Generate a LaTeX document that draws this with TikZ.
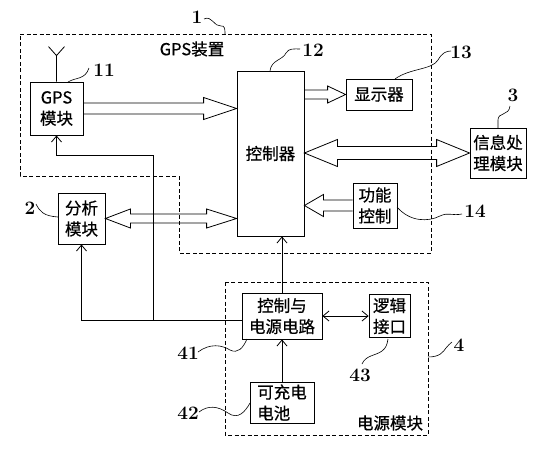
\documentclass[tikz,border=0pt]{standalone}
\usepackage{fontspec}
\newfontfamily\cjk[FakeBold=0.6]{Noto Sans CJK SC}
\usetikzlibrary{arrows.meta,calc}

\begin{document}
\begin{tikzpicture}[x=1pt,y=-1pt]
        \tikzstyle{every node}=[font=\cjk\fontsize{16.5}{21}\selectfont]
        \tikzstyle{box}=[draw, line width=0.8pt, align=center, inner sep=0pt]
        \tikzstyle{num}=[font=\bfseries\fontsize{19}{19}\selectfont, inner sep=1pt]
        \tikzstyle{lead}=[line width=0.6pt]
        \tikzstyle{fat}=[line width=0.8pt, line join=miter]
        \tikzstyle{wire}=[line width=0.8pt, ->, >={Straight Barb[length=6pt,width=10pt]}]
        \tikzstyle{frame}=[line width=0.8pt, dash pattern=on 4pt off 2.5pt]
        \useasboundingbox (0,0) rectangle (539,450);

        %GPS device
        \draw [frame] (20,34) -- (431,34) -- (431,253) -- (179,253) -- (179,176) -- (20,176) -- cycle;
        \node (gpstitle) at (192,49) {GPS装置};
        \node [box, minimum width=53pt, minimum height=53pt] (gps) at (56.5,108.5) {GPS\\模块};
        \node [box, minimum width=67pt, minimum height=165pt] (ctrl) at (270.5,153.5) {控制器};
        \node [box, minimum width=66pt, minimum height=31pt] (disp) at (379,94.5) {显示器};
        \node [box, minimum width=44pt, minimum height=45pt] (func) at (375,205.5) {功能\\控制};
        \node [box, minimum width=56pt, minimum height=50pt] (info) at (498,153) {信息处\\理模块};
        \node [box, minimum width=47pt, minimum height=51pt] (anal) at (81.5,218.5) {分析\\模块};
        \draw [line width=0.8pt] (gps.north) -- ++(0,-26) coordinate (ant) -- ++(-8,-9) (ant) -- ++(8,-9);

        %hollow arrows
        \coordinate (t1) at (gps.east -| ctrl.west);
        \draw [fat] ($(gps.east)+(0,-5.5)$) -- ($(t1)+(-33,-5.5)$) -- ($(t1)+(-33,-11)$) -- (t1)
            -- ($(t1)+(-33,11)$) -- ($(t1)+(-33,5.5)$) -- ($(gps.east)+(0,5.5)$);
        \coordinate (s2) at (ctrl.east |- disp.west);
        \draw [fat] ($(s2)+(0,-4.5)$) -- ($(disp.west)+(-18,-4.5)$) -- ($(disp.west)+(-18,-8.5)$) -- (disp.west)
            -- ($(disp.west)+(-18,8.5)$) -- ($(disp.west)+(-18,4.5)$) -- ($(s2)+(0,4.5)$);
        \coordinate (t3) at (func.west -| ctrl.east);
        \draw [fat] ($(func.west)+(0,-5.5)$) -- ($(t3)+(19,-5.5)$) -- ($(t3)+(19,-11)$) -- (t3)
            -- ($(t3)+(19,11)$) -- ($(t3)+(19,5.5)$) -- ($(func.west)+(0,5.5)$);
        \coordinate (s4) at (ctrl.east |- info.west);
        \draw [fat] (s4) -- ($(s4)+(33,-13.5)$) -- ($(s4)+(33,-6.5)$) -- ($(info.west)+(-33,-6.5)$)
            -- ($(info.west)+(-33,-13.5)$) -- (info.west) -- ($(info.west)+(-33,13.5)$)
            -- ($(info.west)+(-33,6.5)$) -- ($(s4)+(33,6.5)$) -- ($(s4)+(33,13.5)$) -- cycle;
        \coordinate (t5) at (anal.east -| ctrl.west);
        \draw [fat] (anal.east) -- ($(anal.east)+(25,-9.5)$) -- ($(anal.east)+(25,-4.5)$) -- ($(t5)+(-30,-4.5)$)
            -- ($(t5)+(-30,-9.5)$) -- (t5) -- ($(t5)+(-30,9.5)$)
            -- ($(t5)+(-30,4.5)$) -- ($(anal.east)+(25,4.5)$) -- ($(anal.east)+(25,9.5)$) -- cycle;

        %power module
        \draw [frame] (225,282) rectangle (428,435);
        \node (pwrtitle) at (390,423) {电源模块};
        \node [box, minimum width=80pt, minimum height=46pt] (pwr) at (282,316) {控制与\\电源电路};
        \node [box, minimum width=41pt, minimum height=43pt] (logic) at (389.5,316) {逻辑\\接口};
        \node [box, minimum width=64pt, minimum height=41pt, align=left] (batt) at (282,402.5) {可充电\\电池};
        \draw [wire] (batt) -- (pwr);
        \draw [wire] (pwr.north) -- (pwr.north |- ctrl.south);
        \draw [wire, <->] (pwr.east) -- (logic.west);
        \coordinate (tap) at (153,320);
        \coordinate (bend) at (153,155);
        \draw [wire] ($(pwr.west)+(0,4)$) -- (tap) -- (bend) -| (gps.south);
        \draw [wire] (tap) -| (anal.south);

        %reference numbers
        \node [num] (n1) at (197,17) {1};
            \draw [lead] (204,19) .. controls (212,15) and (214,27) .. (221,26) .. controls (225,25) and (225,30) .. (225,34);
        \node [num] (n11) at (104,70) {11};
            \draw [lead] (68,82) .. controls (76,77) and (85,80) .. (89,68);
        \node [num] (n12) at (313,50) {12};
            \draw [lead] (270,71) .. controls (271,60) and (283,60) .. (286,53) .. controls (289,48) and (294,49) .. (300,49);
        \node [num] (n13) at (461,52) {13};
            \draw [lead] (395,79) .. controls (410,68) and (432,70) .. (438,60) .. controls (442,53) and (446,51) .. (451,51);
        \node [num] (n3) at (513,95) {3};
            \draw [lead] (498,128) -- (498,120) .. controls (498,112) and (509,116) .. (510,106);
        \node [num] (n14) at (475,211) {14};
            \draw [lead] (397,207) .. controls (410,222) and (428,222) .. (440,216) .. controls (448,212) and (452,216) .. (462,214);
        \node [num] (n2) at (30,208) {2};
            \draw [lead] (36,204) .. controls (40,212) and (44,216) .. (58,217);
        \node [num] (n4) at (459,345) {4};
            \draw [lead] (428,357) .. controls (440,357) and (443,352) .. (446,348) .. controls (448,345) and (450,344) .. (452,342);
        \node [num] (n41) at (188,353) {41};
            \draw [lead] (198,352) .. controls (210,343) and (222,345) .. (230,350) .. controls (238,354) and (243,348) .. (247,339);
        \node [num] (n43) at (360,375) {43};
            \draw [lead] (362,364) .. controls (366,355) and (375,356) .. (382,351) .. controls (386,348) and (387,345) .. (388,339);
        \node [num] (n42) at (188,413) {42};
            \draw [lead] (199,412) .. controls (208,405) and (218,406) .. (228,413) .. controls (238,420) and (245,412) .. (250,403);
\end{tikzpicture}
\end{document}
